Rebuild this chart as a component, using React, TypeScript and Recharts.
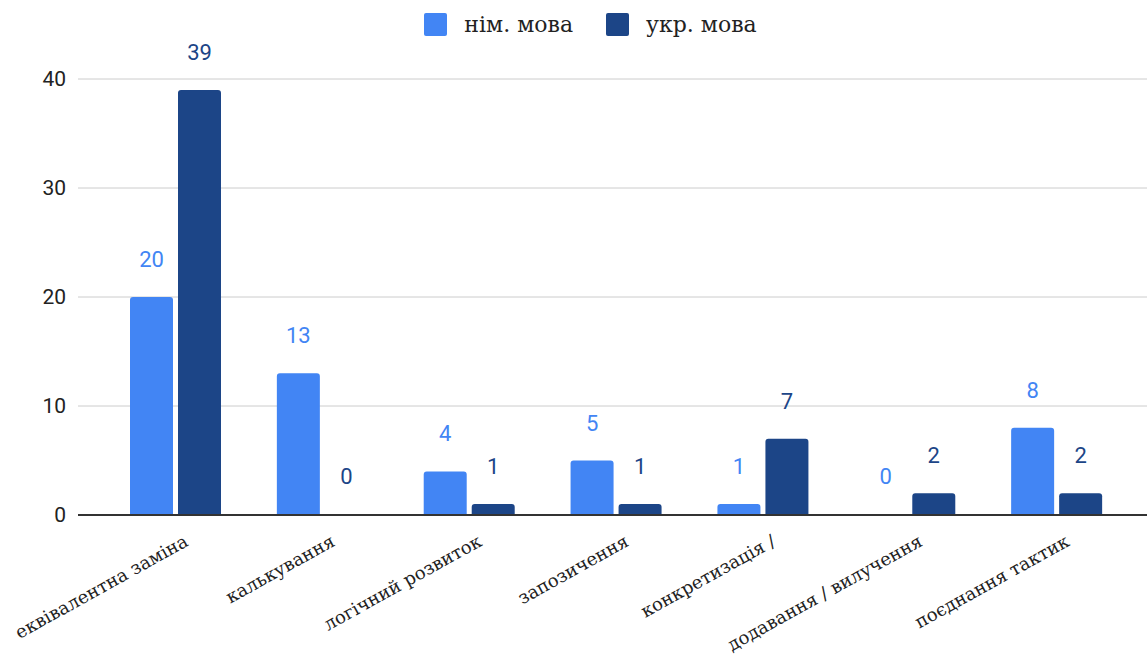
import React from 'react';
import { BarChart, Bar, XAxis, YAxis, CartesianGrid, Legend, LabelList, Rectangle } from 'recharts';

const categories = [
  'еквівалентна заміна',
  'калькування',
  'логічний розвиток',
  'запозичення',
  'конкретизація /',
  'додавання / вилучення',
  'поєднання тактик',
];
const germanValues = [20, 13, 4, 5, 1, 0, 8];
const ukrainianValues = [39, 0, 1, 1, 7, 2, 2];
const yTicks = [0, 10, 20, 30, 40];

const LIGHT = '#4285f4';
const DARK = '#1c4587';
const SERIF = "'DejaVu Serif', 'Liberation Serif', serif";
const SANS = "Roboto, 'Liberation Sans', Arial, sans-serif";

const seriesInfo = [
  { key: 'de', name: 'нім. мова', color: LIGHT },
  { key: 'uk', name: 'укр. мова', color: DARK },
];

const CategoryTick = ({ x, y, payload }: any) => (
  <g transform={`translate(${x + 14},${y + 30})`}>
    <text textAnchor="end" transform="rotate(-29)" fontFamily={SERIF} fontSize={18} fill="#222">
      {payload.value}
    </text>
  </g>
);

// zero values keep a 1px placeholder (minPointSize) so their label still shows; skip drawing it
const barShape = (key: string) => (props: any) =>
  props.payload && props.payload[key] === 0 ? <g /> : <Rectangle {...props} />;

const valueLabel = (color: string) => (props: any) => {
  const { x, y, width, height, value } = props;
  const top = Number(y) + Math.min(0, Number(height));
  return (
    <text
      x={Number(x) + Number(width) / 2}
      y={top - 30}
      textAnchor="middle"
      fill={color}
      fontSize={22}
      fontFamily={SANS}
    >
      {value}
    </text>
  );
};

const LegendContent = () => (
  <div style={{ display: 'flex', justifyContent: 'center', alignItems: 'center', gap: 33, paddingLeft: 34 }}>
    {seriesInfo.map(s => (
      <div key={s.key} style={{ display: 'flex', alignItems: 'center' }}>
        <span style={{ width: 23, height: 23, background: s.color, borderRadius: 2, marginRight: 17 }} />
        <span style={{ fontFamily: SERIF, fontSize: 22, color: '#222' }}>{s.name}</span>
      </div>
    ))}
  </div>
);

export default function App() {
  const data = categories.map((name, i) => ({ name, de: germanValues[i], uk: ukrainianValues[i] }));

  return (
    <div style={{ position: 'absolute', left: 0, top: 0, background: '#fff' }}>
      <BarChart
        width={1147}
        height={664}
        data={data}
        margin={{ top: 79, right: 0, bottom: 0, left: 0 }}
        barSize={43}
        barGap={5}
      >
        <CartesianGrid vertical={false} stroke="#cccccc" />
        <XAxis
          dataKey="name"
          interval={0}
          height={149}
          tickSize={0}
          tickMargin={0}
          tick={<CategoryTick />}
          stroke="#333"
          strokeWidth={2}
          padding={{ left: 24, right: 17 }}
        />
        <YAxis
          width={78}
          domain={[0, 40]}
          ticks={yTicks}
          axisLine={false}
          tickSize={0}
          tickMargin={12}
          tick={{ fill: '#222', fontSize: 21, fontFamily: SANS }}
        />
        <Legend
          verticalAlign="middle"
          align="center"
          content={<LegendContent />}
          wrapperStyle={{ top: 12, left: 0, width: 1147 }}
        />
        {seriesInfo.map(s => (
          <Bar
            key={s.key}
            dataKey={s.key}
            name={s.name}
            fill={s.color}
            radius={[3, 3, 0, 0]}
            minPointSize={1}
            shape={barShape(s.key)}
            isAnimationActive={false}
          >
            <LabelList dataKey={s.key} content={valueLabel(s.color)} />
          </Bar>
        ))}
      </BarChart>
    </div>
  );
}
